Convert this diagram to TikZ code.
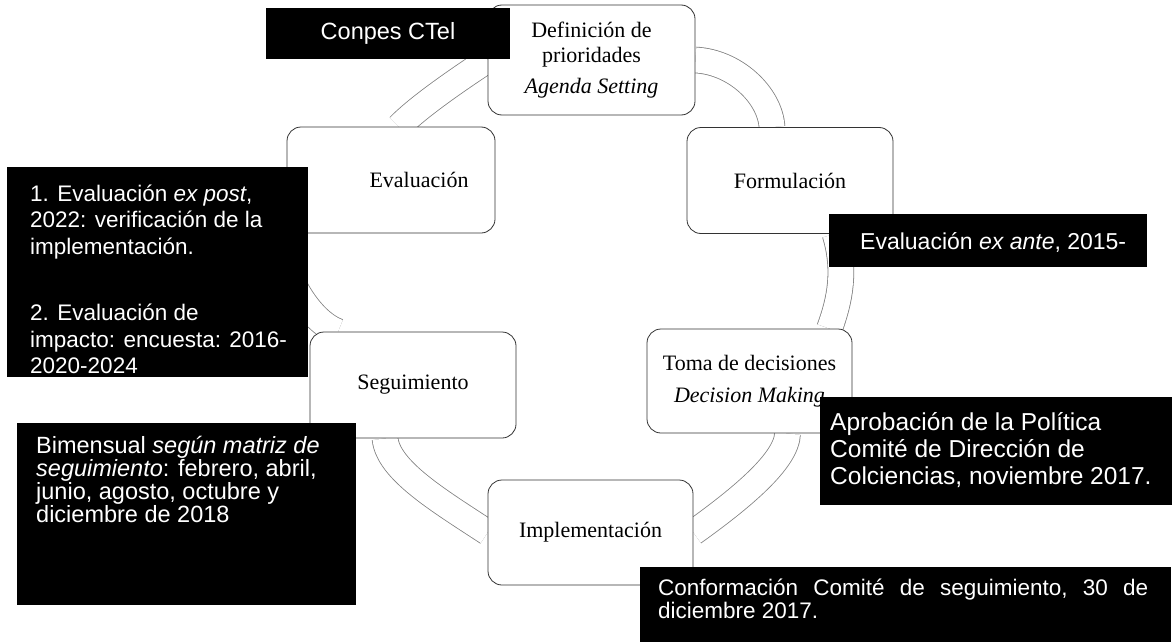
\documentclass[tikz,border=0pt]{standalone}
\usepackage{fontspec}
\setmainfont{Liberation Serif}
\newfontfamily\notefont{Liberation Sans}
\pgfdeclarelayer{bg}
\pgfsetlayers{bg,main}
\tikzset{
  stage/.style={draw=black!80, line width=0.8pt, rounded corners=14pt, fill=white,
    minimum width=206pt, minimum height=106pt, inner sep=0pt, align=center,
    font=\fontsize{22}{25}\selectfont},
  note/.style={fill=black, draw=none, inner sep=0pt},
  notetext/.style={text=white, align=left, inner sep=0pt, anchor=north west,
    font=\notefont\fontsize{22.5}{26.5}\selectfont},
  cyc/.style={draw=black!50, line width=0.8pt, double=white, double distance=25pt},
}
\begin{document}
\begin{tikzpicture}[x=1pt,y=-1pt]
\useasboundingbox (0,0) rectangle (1174,642);
% stages of the cycle
\node[stage, minimum width=207pt, minimum height=110pt] (def) at (591.5,60)
  {\rule{0pt}{8pt}Definición de\\prioridades\\[6pt]\textit{Agenda Setting}};
\node[stage] (form) at (790,180.5) {Formulación};
\node[stage, minimum width=205pt, minimum height=104pt] (toma) at (749.5,381)
  {Toma de decisiones\\[7pt]\textit{Decision Making}};
\node[stage, minimum width=205pt, minimum height=105pt] (impl) at (590.5,532.5) {Implementación};
\node[stage] (segu) at (413,385) {Seguimiento};
\node[stage, minimum width=208pt] (eval) at (391,180)
  {\hspace*{56pt}Evaluación};
% cycle arrows (block arcs)
\begin{pgfonlayer}{bg}
\draw[cyc] (def.east) .. controls (735,62) and (770,95) .. ([xshift=-18pt]form.north);
\draw[cyc] ([xshift=45pt]form.south) .. controls (846,270) and (840,300) .. ([xshift=80pt]toma.north);
\draw[cyc] ([xshift=38pt]toma.south) .. controls (787,460) and (743,497) .. (impl.east);
\draw[cyc] (impl.west) .. controls (438,500) and (388,470) .. ([xshift=-28pt]segu.south);
\draw[cyc] ([xshift=-75pt]segu.north) .. controls (300,318) and (265,240) .. ([yshift=-30pt]eval.west);
\draw[cyc] ([xshift=8pt]eval.north) .. controls (420,105) and (465,75) .. (def.west);
\end{pgfonlayer}
% black notes
\node[note, minimum width=244pt, minimum height=51pt, text=white,
  font=\notefont\fontsize{23.5}{26}\selectfont] (conpes) at (388,33.5) {Conpes CTel};
\node[note, minimum width=301pt, minimum height=210pt] (expost) at (157.5,272) {};
\node[notetext] (expostt) at (30,184.5)
  {1. Evaluación \textit{ex post},\\2022: verificación de la\\implementación.\\[40pt]2. Evaluación de\\impacto: encuesta: 2016-\\2020-2024};
\node[note, minimum width=318pt, minimum height=53pt] (exante) at (988,240.5) {};
\node[notetext, font=\notefont\fontsize{23}{26}\selectfont] (exantet) at (860,232) {Evaluación \textit{ex ante}, 2015-};
\node[note, minimum width=339pt, minimum height=182pt] (bimen) at (186.5,514) {};
\node[notetext, font=\notefont\fontsize{23.5}{23}\selectfont] (bimett) at (36,436)
  {Bimensual \textit{según matriz de}\\\textit{seguimiento}: febrero, abril,\\junio, agosto, octubre y\\diciembre de 2018};
\node[note, minimum width=352pt, minimum height=108pt] (aprob) at (996,451) {};
\node[notetext, font=\notefont\fontsize{24.5}{27}\selectfont] (aprobt) at (830,412)
  {Aprobación de la Política\\Comité de Dirección de\\Colciencias, noviembre 2017.};
\node[note, minimum width=531pt, minimum height=75pt] (conf) at (905.5,604.5) {};
\node[notetext, font=\notefont\fontsize{22.5}{23}\selectfont] (conft) at (658,578.5)
  {\hbox to 490pt{Conformación\hfill Comité\hfill de\hfill seguimiento,\hfill 30\hfill de}\\diciembre 2017.};
\end{tikzpicture}
\end{document}
